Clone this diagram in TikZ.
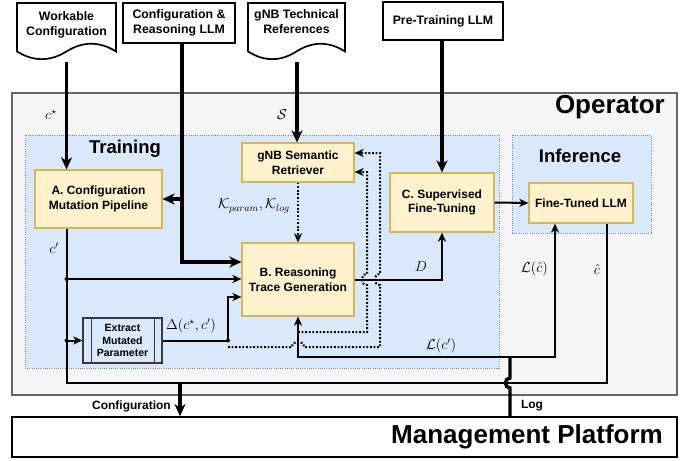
\documentclass[tikz,border=0pt]{standalone}
\usepackage{fontspec}
\setmainfont{Liberation Sans}
\usetikzlibrary{arrows.meta}
\definecolor{opfill}{HTML}{F5F5F5}
\definecolor{opdraw}{HTML}{666666}
\definecolor{regfill}{HTML}{DAE8FC}
\definecolor{regdraw}{HTML}{6C8EBF}
\definecolor{boxfill}{HTML}{FFF2CC}
\definecolor{boxdraw}{HTML}{D6B656}
\definecolor{procdraw}{HTML}{36393D}
\begin{document}
\begin{tikzpicture}[x=1pt,y=-1pt,
  box/.style={draw=boxdraw, fill=boxfill, line width=1.2pt, inner sep=0pt, align=center, font=\fontsize{12}{14.5}\selectfont\bfseries},
  topbox/.style={draw=black, fill=white, line width=1.7pt, inner sep=0pt, align=center, font=\fontsize{12.3}{14.8}\selectfont\bfseries},
  doctext/.style={inner sep=0pt, align=center, font=\fontsize{12.3}{14.8}\selectfont\bfseries},
  docline/.style={draw=black, fill=white, line width=1.7pt},
  region/.style={draw=regdraw, fill=regfill, dash pattern=on 1pt off 1.2pt, line width=0.8pt},
  title/.style={inner sep=0pt, font=\fontsize{18.5}{22}\selectfont\bfseries},
  bigtitle/.style={inner sep=0pt, font=\fontsize{26}{30}\selectfont\bfseries},
  thickarrow/.style={line width=3.4pt, -{Stealth[length=12pt,width=11pt,inset=3.5pt]}},
  thickline/.style={line width=3.4pt},
  arr/.style={line width=2pt, -{Stealth[length=9pt,width=8pt,inset=2.5pt]}},
  ln/.style={line width=2pt},
  dotarr/.style={line width=2pt, dash pattern=on 1.8pt off 1.8pt, -{Stealth[length=9pt,width=8pt,inset=2.5pt]}},
  lbl/.style={inner sep=0pt, font=\fontsize{12}{14}\selectfont\bfseries},
  mlbl/.style={inner sep=0pt, font=\fontsize{14}{16}\selectfont},
  jdot/.style={fill=black},
]
\useasboundingbox (0,0) rectangle (692,460);

% ---- regions ----
\node[draw=opdraw, fill=opfill, line width=1.8pt, minimum width=665pt, minimum height=302pt, inner sep=0pt] (op) at (344.5,244) {};
\node[region, minimum width=474pt, minimum height=233pt, inner sep=0pt] (tr) at (262,251.5) {};
\node[region, minimum width=139pt, minimum height=98pt, inner sep=0pt] (inf) at (581.5,184) {};
\node[draw=black, fill=white, line width=1.7pt, minimum width=665pt, minimum height=40pt, inner sep=0pt] (M) at (344.5,437) {};

\node[bigtitle, anchor=east] (optitle) at (665,107) {Operator};
\node[bigtitle, anchor=east] (mtitle) at (663,437) {Management Platform};
\node[title] (trtitle) at (125,149) {Training};
\node[title] (inftitle) at (580,156) {Inference};

% ---- top sources ----
\draw[docline] (17,3) -- (116,3) -- (116,51.45)
  .. controls (99.5,41.19) and (83,41.19) .. (66.5,51.45)
  .. controls (50,61.71) and (33.5,61.71) .. (17,51.45) -- cycle;
\node[doctext] (wc) at (66.5,25) {Workable\\Configuration};
\draw[docline] (248,3) -- (345,3) -- (345,51.45)
  .. controls (328.83,41.19) and (312.67,41.19) .. (296.5,51.45)
  .. controls (280.33,61.71) and (264.17,61.71) .. (248,51.45) -- cycle;
\node[doctext] (gnb) at (296.5,22) {gNB Technical\\References};
\node[topbox, minimum width=112pt, minimum height=40pt] (CR) at (179,23) {Configuration \&\\Reasoning LLM};
\node[topbox, minimum width=120pt, minimum height=38pt] (PT) at (443,21) {Pre-Training LLM};

% ---- boxes ----
\node[box, minimum width=127pt, minimum height=58pt] (A) at (98.5,199) {A. Configuration\\Mutation Pipeline};
\node[box, minimum width=112pt, minimum height=39pt] (R) at (298,162.5) {gNB Semantic\\Retriever};
\node[box, minimum width=112pt, minimum height=73pt] (B) at (298,279.5) {B. Reasoning\\Trace Generation};
\node[box, minimum width=104pt, minimum height=59pt] (C) at (442,202.5) {C. Supervised\\Fine-Tuning};
\node[box, minimum width=104pt, minimum height=40pt] (F) at (581,203) {Fine-Tuned LLM};
\node[draw=procdraw, fill=regfill, line width=1.3pt, minimum width=79pt, minimum height=45pt, inner sep=0pt, align=center,
  font=\fontsize{10.5}{12.3}\selectfont\bfseries] (E) at (122.5,340.5) {Extract\\Mutated\\Parameter};
\draw[draw=procdraw, line width=1.3pt] ([xshift=9pt]E.north west) -- ([xshift=9pt]E.south west)
  ([xshift=-8pt]E.north east) -- ([xshift=-8pt]E.south east);

% ---- coordinates ----
\coordinate (wcb) at (66.5,62);
\coordinate (gnbb) at (297,62);
\coordinate (crturn) at (182,262);
\coordinate (crA) at (182,199);
\coordinate (Ab) at (66.5,383);
\coordinate (Fb) at (607,383);
\coordinate (cfg) at (180,383);
\coordinate (jB) at (66.5,279);
\coordinate (jE) at (66.5,340.5);
\coordinate (jD) at (228,340.5);
\coordinate (jD2) at (228,297);
\coordinate (d1s) at (228,347);
\coordinate (d1t) at (380,153);
\coordinate (d2s) at (298,332);
\coordinate (d2t) at (367,172);
\coordinate (lg) at (510,357);
\coordinate (lgR) at (555,357);
\coordinate (Dc) at (442,279.5);

% ---- connectors ----
\draw[thickarrow] (wcb) -- (wcb |- A.north);
\draw[thickarrow] (CR.south -| crturn) -- (crturn) -- (crturn -| B.west);
\draw[thickarrow] (crA) -- (crA -| A.east);
\draw[thickarrow] (gnbb) -- (gnbb |- R.north);
\draw[thickarrow] (PT.south -| C.north) -- (C.north);
\draw[dotarr] (R.south) -- (B.north);

\draw[ln] (A.south -| Ab) -- (Ab) -- (Fb) -- (Fb |- F.south);
\draw[thickarrow] (cfg) -- (cfg |- M.north);

\draw[arr] (jB) -- (jB -| B.west);
\fill[jdot] (jB) circle (2pt);
\draw[arr] (jE) -- (E.west);
\fill[jdot] (jE) circle (2pt);
\draw[arr] (E.east) -- (jD) -- (jD2) -- (jD2 -| B.west);
\fill[jdot] (jD) circle (2pt);

\draw[arr] (B.east) -- (Dc) -- (C.south);
\draw[arr] (C.east) -- (F.west);

% log
\draw[thickline] (M.north -| lg) -- (510,388) .. controls (504,388) and (504,378) .. (510,378) -- (lg);
\draw[arr] (lg) -- (lg -| B.south) -- (B.south);
\draw[arr] (lg) -- (lgR) -- (lgR |- F.south);

% dotted feedback
\draw[dotarr] (d1s) -- (292,347) .. controls (292,340) and (304,340) .. (304,347) -- (380,347) -- (380,285)
  .. controls (373,285) and (373,274) .. (380,274) -- (d1t) -- (d1t -| R.east);
\draw[dotarr] (d2s) -- (367,332) -- (367,285)
  .. controls (360,285) and (360,274) .. (367,274) -- (d2t) -- (d2t -| R.east);

% ---- labels ----
\node[mlbl] (lcs) at (51,115) {$c^{\star}$};
\node[mlbl] (lS) at (282,115) {$\mathcal{S}$};
\node[mlbl] (lcp) at (54,248) {$c'$};
\node[mlbl] (lK) at (254,206) {$\mathcal{K}_{param},\mathcal{K}_{log}$};
\node[mlbl] (lD) at (421,267) {$D$};
\node[mlbl] (lDelta) at (191,326) {$\Delta(c^{\star},c')$};
\node[mlbl] (lLc) at (441,346) {$\mathcal{L}(c')$};
\node[mlbl, anchor=east] (lLh) at (548,269) {$\mathcal{L}(\hat{c})$};
\node[mlbl] (lh) at (597,269) {$\hat{c}$};
\node[lbl, anchor=east] (lcfg) at (171,406) {Configuration};
\node[lbl] (llog) at (532,406) {Log};
\end{tikzpicture}
\end{document}
